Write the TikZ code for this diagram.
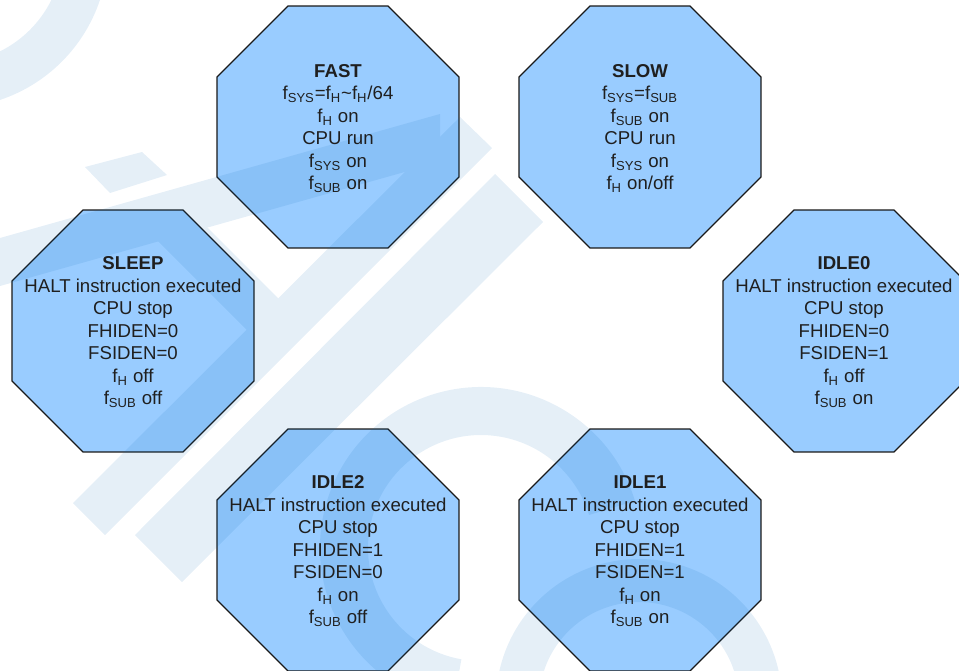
\documentclass[tikz,border=0pt]{standalone}
\usepackage{fontspec}
\setmainfont{Liberation Sans}
\usetikzlibrary{shapes.geometric}

\definecolor{stateblue}{RGB}{153,204,255}
\definecolor{markblue}{RGB}{0,100,180}
\newcommand{\clk}[1]{f\textsubscript{#1}}

\begin{document}
\begin{tikzpicture}[x=0.02cm,y=-0.02cm,line width=0.7pt,
    octa/.style={regular polygon,regular polygon sides=8,minimum size=5.238cm,
      inner sep=0pt,fill=stateblue,draw=black!90},
    statetext/.style={align=center,inner sep=0pt,yshift=-0.8pt,text=black!88,
      font=\fontsize{10.6}{12.8}\selectfont}]
    \useasboundingbox (0,0) rectangle (959,670);

    % State shapes
    \node[octa] (fast)  at (338,127) {};
    \node[octa] (slow)  at (640,127) {};
    \node[octa] (sleep) at (133,331) {};
    \node[octa] (idle0) at (844,331) {};
    \node[octa] (idle2) at (338,550) {};
    \node[octa] (idle1) at (640,550) {};

    % Faint background mark
    \begin{scope}[transparency group,opacity=0.1]
      \fill[markblue,even odd rule] (-50,-50) circle[radius=158] (-50,-50) circle[radius=113];
      \fill[markblue] (85,167) -- (142,152) -- (167,175) -- (110,193) -- cycle;
      \fill[markblue] (0,238) -- (440,114) -- (440,162) -- (0,286) -- cycle;
      \fill[markblue] (460,117) -- (492,148) -- (105,535) -- (73,503) -- cycle;
      \fill[markblue] (158,241) -- (247,330) -- (310,330) -- (207,227) -- cycle;
      \fill[markblue] (495,174) -- (543,222) -- (182,582) -- (135,535) -- cycle;
      \fill[markblue] (481,548) ++(-17:161) arc[start angle=-17,end angle=-260,radius=161]
        -- ++(-260:-48) arc[start angle=-260,end angle=-17,radius=113] -- cycle;
      \fill[markblue,even odd rule] (639,702) circle[radius=143] (639,702) circle[radius=100];
    \end{scope}

    % State texts
    \node[statetext] (fasttxt) at (fast) {\textbf{FAST}\\
      \clk{SYS}=\clk{H}\textasciitilde\clk{H}/64\\ \clk{H} on\\ CPU run\\ \clk{SYS} on\\ \clk{SUB} on};
    \node[statetext] (slowtxt) at (slow) {\textbf{SLOW}\\
      \clk{SYS}=\clk{SUB}\\ \clk{SUB} on\\ CPU run\\ \clk{SYS} on\\ \clk{H} on/off};
    \node[statetext] (sleeptxt) at (sleep) {\textbf{SLEEP}\\ HALT instruction executed\\
      CPU stop\\ FHIDEN=0\\ FSIDEN=0\\ \clk{H} off\\ \clk{SUB} off};
    \node[statetext] (idle0txt) at (idle0) {\textbf{IDLE0}\\ HALT instruction executed\\
      CPU stop\\ FHIDEN=0\\ FSIDEN=1\\ \clk{H} off\\ \clk{SUB} on};
    \node[statetext] (idle2txt) at (idle2) {\textbf{IDLE2}\\ HALT instruction executed\\
      CPU stop\\ FHIDEN=1\\ FSIDEN=0\\ \clk{H} on\\ \clk{SUB} off};
    \node[statetext] (idle1txt) at (idle1) {\textbf{IDLE1}\\ HALT instruction executed\\
      CPU stop\\ FHIDEN=1\\ FSIDEN=1\\ \clk{H} on\\ \clk{SUB} on};

\end{tikzpicture}
\end{document}
